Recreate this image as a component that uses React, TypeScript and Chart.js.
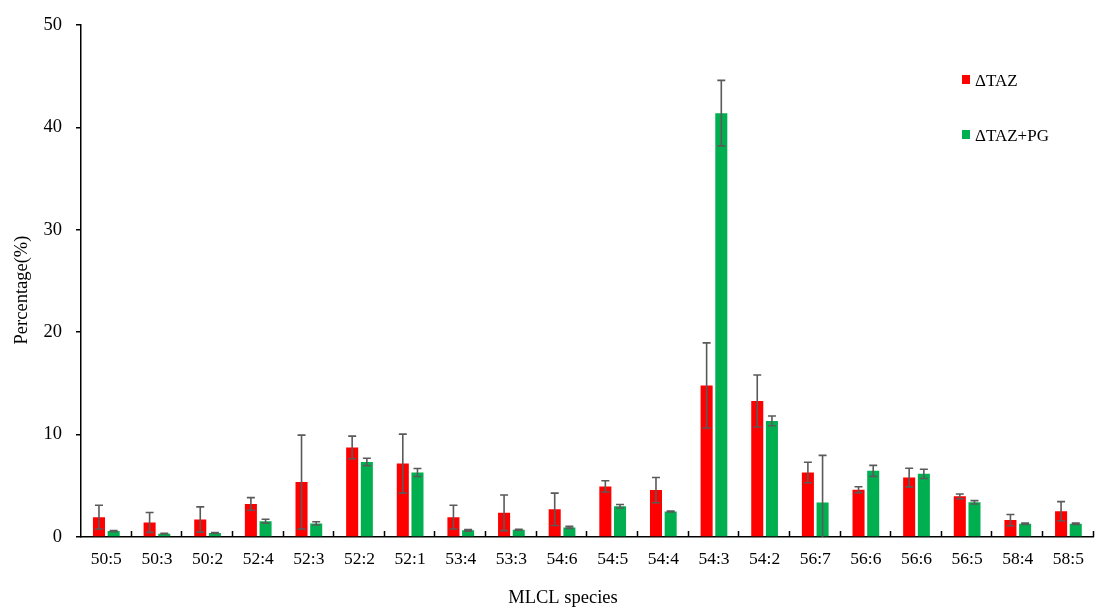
import React, { useEffect, useRef } from "react";
import { Chart, registerables } from "chart.js";

Chart.register(...registerables);

const categories = ["50:5", "50:3", "50:2", "52:4", "52:3", "52:2", "52:1", "53:4", "53:3", "54:6", "54:5", "54:4", "54:3", "54:2", "56:7", "56:6", "56:6", "56:5", "58:4", "58:5"];
const tazValues = [1.94, 1.42, 1.71, 3.23, 5.36, 8.75, 7.17, 1.94, 2.36, 2.71, 4.94, 4.58, 14.8, 13.28, 6.3, 4.62, 5.81, 3.97, 1.65, 2.52];
const tazErrors = [1.16, 0.97, 1.23, 0.62, 4.59, 1.1, 2.88, 1.16, 1.74, 1.58, 0.55, 1.23, 4.16, 2.54, 1.0, 0.29, 0.91, 0.23, 0.55, 0.94];
const pgValues = [0.58, 0.32, 0.39, 1.55, 1.33, 7.33, 6.3, 0.65, 0.71, 0.94, 3.0, 2.49, 41.4, 11.34, 3.36, 6.46, 6.17, 3.39, 1.29, 1.29];
const pgErrors = [0.06, 0.03, 0.04, 0.19, 0.16, 0.36, 0.39, 0.08, 0.05, 0.1, 0.17, 0.05, 3.2, 0.48, 4.61, 0.54, 0.45, 0.16, 0.07, 0.07];
const seriesLabels = ["ΔTAZ", "ΔTAZ+PG"];
const seriesColors = ["#FF0000", "#00B050"];
const yTitle = "Percentage(%)";
const xTitle = "MLCL species";

const FONT = "'Liberation Serif', 'Times New Roman', serif";

export default function App() {
  const ref = useRef<HTMLCanvasElement>(null);

  useEffect(() => {
    const canvas = ref.current!;
    const errs = [tazErrors, pgErrors];

    const errorBars = {
      id: "errorBars",
      afterDatasetsDraw(chart: any) {
        const { ctx, scales } = chart;
        const y = scales.y;
        ctx.save();
        ctx.strokeStyle = "#5a5a5a";
        ctx.lineWidth = 1.6;
        chart.data.datasets.forEach((ds: any, di: number) => {
          const meta = chart.getDatasetMeta(di);
          meta.data.forEach((bar: any, i: number) => {
            const v = ds.data[i] as number;
            const e = errs[di][i];
            const top = y.getPixelForValue(v + e);
            const low = Math.max(0, v - e);
            const bot = y.getPixelForValue(low);
            const x = bar.x;
            ctx.beginPath();
            ctx.moveTo(x, top);
            ctx.lineTo(x, bot);
            ctx.moveTo(x - 4, top);
            ctx.lineTo(x + 4, top);
            if (low > 0) {
              ctx.moveTo(x - 4, bot);
              ctx.lineTo(x + 4, bot);
            }
            ctx.stroke();
          });
        });
        ctx.restore();
      },
    };

    const extras = {
      id: "extras",
      afterDraw(chart: any) {
        const { ctx, scales, chartArea } = chart;
        const xs = scales.x;
        ctx.save();
        // inner tick marks between categories
        const n = categories.length;
        const step = (xs.right - xs.left) / n;
        ctx.strokeStyle = "#000";
        ctx.lineWidth = 1.5;
        ctx.beginPath();
        for (let i = 1; i <= n; i++) {
          const px = Math.round(xs.left + i * step) - 0.5;
          ctx.moveTo(px, chartArea.bottom);
          ctx.lineTo(px, chartArea.bottom - 6);
        }
        ctx.stroke();

        // legend
        ctx.font = `17px ${FONT}`;
        ctx.textBaseline = "alphabetic";
        ctx.textAlign = "left";
        const legendY = [75, 130];
        seriesLabels.forEach((lab, i) => {
          ctx.fillStyle = seriesColors[i];
          ctx.fillRect(962, legendY[i], 8, 9);
          ctx.fillStyle = "#000";
          ctx.fillText(lab, 975, legendY[i] + 11);
        });

        // axis titles
        ctx.font = `18.5px ${FONT}`;
        ctx.fillStyle = "#000";
        ctx.textAlign = "center";
        ctx.fillText(xTitle, 563, 603);
        ctx.translate(27, 290);
        ctx.rotate(-Math.PI / 2);
        ctx.fillText(yTitle, 0, 0);
        ctx.restore();
      },
    };

    const chart = new Chart(canvas, {
      type: "bar",
      data: {
        labels: categories,
        datasets: [
          { label: seriesLabels[0], data: tazValues, backgroundColor: seriesColors[0], categoryPercentage: 0.58, barPercentage: 0.82 },
          { label: seriesLabels[1], data: pgValues, backgroundColor: seriesColors[1], categoryPercentage: 0.58, barPercentage: 0.82 },
        ],
      },
      options: {
        responsive: false,
        animation: false,
        layout: { padding: { top: 21, right: 1, left: 0, bottom: 0 } },
        plugins: { legend: { display: false }, tooltip: { enabled: false } },
        scales: {
          x: {
            grid: { display: false, drawTicks: false },
            border: { display: true, color: "#000", width: 1.5 },
            ticks: { color: "#000", font: { family: FONT, size: 17.5 }, padding: 12, maxRotation: 0, autoSkip: false },
            afterFit: (s: any) => { s.height = 71; },
          },
          y: {
            min: 0,
            max: 50,
            ticks: { stepSize: 10, color: "#000", font: { family: FONT, size: 18.5 }, padding: 14 },
            grid: { drawOnChartArea: false, tickLength: 5, color: "#000", lineWidth: 1.5 },
            border: { color: "#000", width: 1.5 },
            afterFit: (s: any) => { s.width = 81; },
          },
        },
      } as any,
      plugins: [errorBars, extras],
    });
    return () => chart.destroy();
  }, []);

  return (
    <div style={{ position: "absolute", left: 0, top: 0, width: 1096, height: 608, background: "#fff" }}>
      <canvas ref={ref} width={1096} height={608} style={{ display: "block" }} />
    </div>
  );
}
